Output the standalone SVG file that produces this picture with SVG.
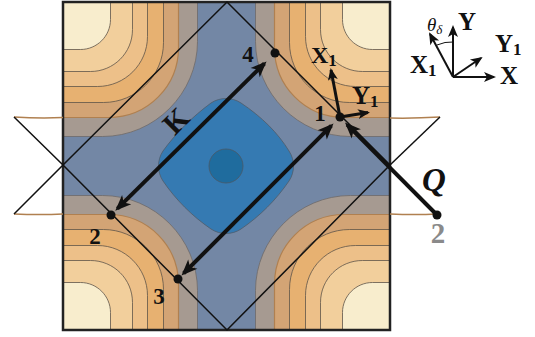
<svg xmlns="http://www.w3.org/2000/svg" xmlns:xlink="http://www.w3.org/1999/xlink" width="535" height="337" viewBox="0 0 535 337">
<style>
.c0{fill:#a69a91;stroke:#6d6a6a;stroke-width:0.8}
.c1{fill:#d3a475;stroke:#b08050;stroke-width:1.2}
.c2{fill:#e7b171;stroke:#5e5449;stroke-width:0.8}
.c3{fill:#edc089;stroke:#5e5449;stroke-width:0.8}
.c4{fill:#f2cf9c;stroke:#5e5449;stroke-width:0.8}
.c5{fill:#f8edcd;stroke:#5e5449;stroke-width:0.8}
.brown{stroke:#b08050;stroke-width:1.5;fill:none}
.thin{stroke:#111;stroke-width:1.5;fill:none}
.thick{stroke:#111;stroke-width:4;fill:none}
.mid{stroke:#111;stroke-width:3;fill:none}
.leg{stroke:#111;stroke-width:2;fill:none}
.lbl{font-family:"Liberation Serif","DejaVu Serif",serif;font-weight:bold;fill:#111}
.dot{fill:#111}
</style>
<defs>
<marker id="ah" viewBox="-16 -8 20 16" markerWidth="20" markerHeight="16" refX="0" refY="0" orient="auto-start-reverse" markerUnits="userSpaceOnUse">
<path d="M3,0 L-13,-6.5 L-9,0 L-13,6.5 Z" fill="#111"/>
</marker>
<marker id="ahs" viewBox="-16 -8 20 16" markerWidth="20" markerHeight="16" refX="0" refY="0" orient="auto" markerUnits="userSpaceOnUse">
<path d="M2,0 L-10,-5 L-7,0 L-10,5 Z" fill="#111"/>
</marker>
<g id="tl">
<path class="c0" d="M63,2 H197.5 V41.5 C197.5,93 155,136.5 102.5,136.5 H63 Z"/>
<path class="c1" d="M63,2 H178.5 V47.5 C178.5,86 148,117.5 108.5,117.5 H63 Z"/>
<path class="c2" d="M63,2 H163.5 V42.5 C163.5,76 136,102.5 103.5,102.5 H63 Z"/>
<path class="c3" d="M63,2 H147.5 V36.5 C147.5,64 125,86.5 97.5,86.5 H63 Z"/>
<path class="c4" d="M63,2 H132.5 V29.5 C132.5,53 113.5,71.5 90.5,71.5 H63 Z"/>
<path class="c5" d="M63,2 H110.5 V19.5 C110.5,36 97,49.5 80.5,49.5 H63 Z"/>
</g>
</defs>

<g id="field">
<rect x="63" y="2" width="327" height="328" fill="#7387a5"/>
<use xlink:href="#tl"/>
<use xlink:href="#tl" transform="translate(453,0) scale(-1,1)"/>
<use xlink:href="#tl" transform="translate(0,332) scale(1,-1)"/>
<use xlink:href="#tl" transform="translate(453,332) scale(-1,-1)"/>
<path d="M211,103 C220,97 232,97 241,103 C262,117 278,133 289,151 C295,160 295,172 289,181 C276,200 260,216 241,229 C232,235 220,235 211,229 C192,216 176,200 163,181 C157,172 157,160 163,151 C176,133 192,117 211,103 Z" fill="#357ab2" stroke="#4f5c6a" stroke-width="0.8"/>
<circle cx="226" cy="166" r="17" fill="#1f6c9e" stroke="#4a5866" stroke-width="0.8"/>
<rect x="63" y="2" width="327" height="328" fill="none" stroke="#222" stroke-width="2.5"/>
</g>

<g id="connectors">
<path class="brown" d="M14,117 Q40,118.5 63,117.5"/>
<path class="brown" d="M14,214 Q40,215 63,214"/>
<path class="brown" d="M390,118 Q415,118.5 440,117"/>
<path class="brown" d="M390,214 Q415,215 437,214"/>
<path class="thin" d="M227,2 L390,165 L227,330 L63,165 Z"/>
<path class="thin" d="M14,117 L63,165 L14,214"/>
<path class="thin" d="M440,117 L390,165"/>
<line class="thick" x1="117.4" y1="208.7" x2="264.4" y2="63.5" marker-start="url(#ah)" marker-end="url(#ah)"/>
<line class="thick" x1="183.6" y1="273.4" x2="331.4" y2="125.6" marker-start="url(#ah)" marker-end="url(#ah)"/>
<line class="thick" x1="437" y1="215" x2="347.1" y2="124.6" marker-end="url(#ah)"/>
<line class="mid" x1="340" y1="117" x2="331" y2="70" marker-end="url(#ahs)"/>
<line class="mid" x1="340" y1="117" x2="368" y2="112.5" marker-end="url(#ahs)"/>
<line class="leg" x1="453" y1="77" x2="453" y2="27" marker-end="url(#ahs)"/>
<line class="leg" x1="453" y1="77" x2="494" y2="77" marker-end="url(#ahs)"/>
<line class="leg" x1="453" y1="77" x2="430" y2="34" marker-end="url(#ahs)"/>
<line class="leg" x1="453" y1="77" x2="481" y2="58" marker-end="url(#ahs)"/>
<path d="M437,45 Q445,41.5 453,42" fill="none" stroke="#111" stroke-width="1"/>
</g>

<g id="points">
<circle class="dot" cx="275" cy="53" r="4.5"/>
<circle class="dot" cx="340" cy="117" r="4.5"/>
<circle class="dot" cx="111" cy="215" r="4.5"/>
<circle class="dot" cx="178" cy="279" r="4.5"/>
<circle class="dot" cx="437" cy="215" r="4.5"/>
</g>

<g id="labels">
<text class="lbl" x="248" y="62" font-size="23" text-anchor="middle">4</text>
<text class="lbl" x="320" y="121" font-size="23" text-anchor="middle">1</text>
<text class="lbl" x="95" y="244" font-size="23" text-anchor="middle">2</text>
<text class="lbl" x="159" y="304" font-size="23" text-anchor="middle">3</text>
<text class="lbl" x="438" y="243" font-size="29" text-anchor="middle" style="fill:#8a8a8a">2</text>
<text class="lbl" x="0" y="0" font-size="30" text-anchor="middle" transform="translate(183,128) rotate(-45)">K</text>
<text class="lbl" x="434" y="191" font-size="33" font-style="italic" text-anchor="middle">Q</text>
<text class="lbl" x="311" y="63" font-size="24">X<tspan font-size="17" dy="3">1</tspan></text>
<text class="lbl" x="352" y="104" font-size="25">Y<tspan font-size="17" dy="3">1</tspan></text>
<text class="lbl" x="458" y="30" font-size="25">Y</text>
<text class="lbl" x="500" y="84" font-size="25">X</text>
<text class="lbl" x="495" y="52" font-size="25">Y<tspan font-size="17" dy="3">1</tspan></text>
<text class="lbl" x="410" y="73" font-size="25">X<tspan font-size="17" dy="3">1</tspan></text>
<text x="427" y="31" font-family="Liberation Serif, DejaVu Serif, serif" font-style="italic" font-size="19" fill="#111">θ<tspan font-size="13" dy="3">δ</tspan></text>
</g>
</svg>
